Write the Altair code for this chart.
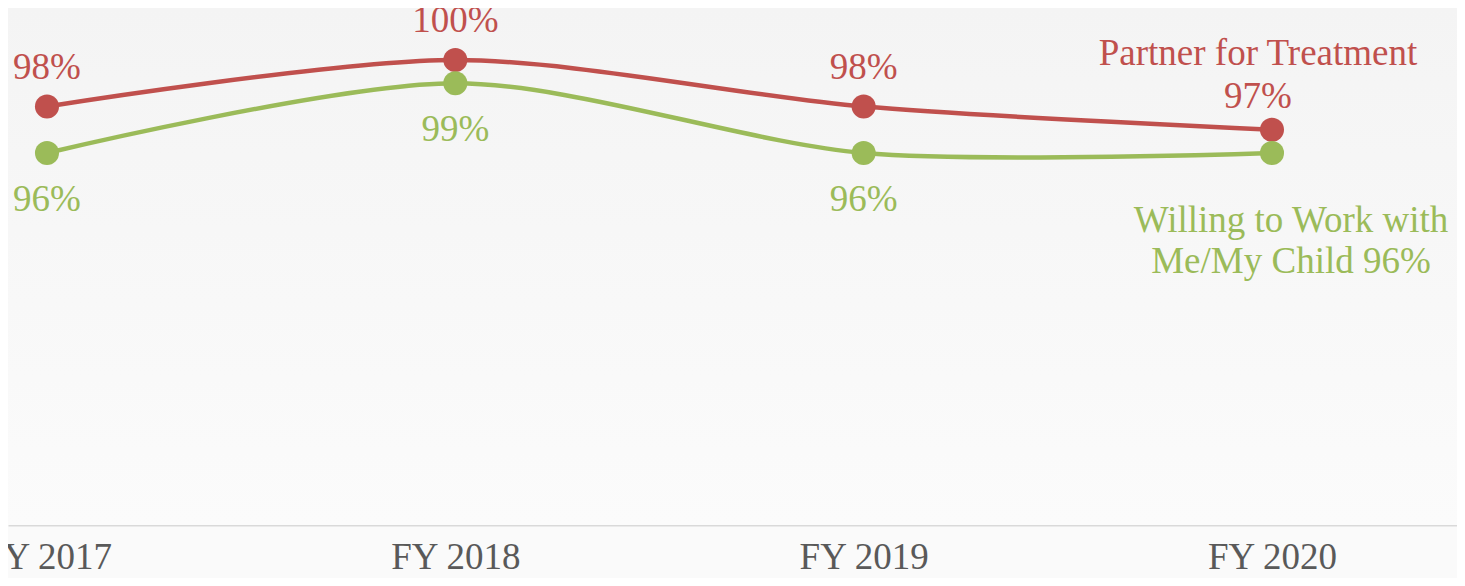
import altair as alt
import pandas as pd

years = [2017, 2018, 2019, 2020]
partner = [98, 100, 98, 97]
willing = [96, 99, 96, 96]
partner_name = "Partner for Treatment"
willing_name = "Willing to Work with\nMe/My Child"

RED = "#c0504d"
GREEN = "#9bbb59"
FONT = "'Liberation Serif', 'Times New Roman', Times, serif"
FS = 37

rows = []
for y, p, w in zip(years, partner, willing):
    rows.append({"year": y, "value": p, "series": "partner", "label": f"{p}%",
                 "last": y == years[-1]})
    rows.append({"year": y, "value": w, "series": "willing", "label": f"{w}%",
                 "last": y == years[-1]})
df = pd.DataFrame(rows)
df.loc[(df.series == "partner") & df["last"], "label"] = partner_name + "\n" + f"{partner[-1]}%"
df.loc[(df.series == "willing") & df["last"], "label"] = willing_name + f" {willing[-1]}%"

W, H = 1449, 517

x = alt.X("year:Q", scale=alt.Scale(domain=[2016.9045, 2020.4531], nice=False, zero=False),
          axis=alt.Axis(values=years, labelExpr="'FY ' + datum.value", title=None,
                        ticks=False, grid=False, domainColor="#d9d9d9", domainWidth=2,
                        labelFont=FONT, labelFontSize=FS, labelColor="#595959",
                        labelPadding=14, labelFlush=False, labelOverlap=False))
y = alt.Y("value:Q", scale=alt.Scale(domain=[80, 102.237], nice=False, zero=False), axis=None)
color = alt.Color("series:N", scale=alt.Scale(domain=["partner", "willing"], range=[RED, GREEN]),
                  legend=None)

bg = alt.Chart(alt.Data(values=[{}])).mark_rect(
    color=alt.Gradient(gradient="linear", x1=0, y1=0, x2=0, y2=1,
                       stops=[alt.GradientStop(color="#f4f4f4", offset=0),
                              alt.GradientStop(color="#fbfbfb", offset=1)])
).encode(x=alt.value(0), x2=alt.value(W), y=alt.value(0), y2=alt.value(H))

base = alt.Chart(df)
lines = base.mark_line(strokeWidth=4.5, interpolate="cardinal", tension=0.15).encode(
    x=x, y=y, color=color, detail="series:N")
points = base.mark_point(filled=True, size=580, opacity=1, shape="circle").encode(
    x=x, y=y, color=color)

def txt(series, last, dx, dy, lh=40):
    return base.transform_filter(
        (alt.datum.series == series) & (alt.datum["last"] == last)
    ).mark_text(font=FONT, fontSize=FS, dx=dx, dy=dy, baseline="alphabetic",
                align="center", lineBreak="\n", lineHeight=lh,
                color=RED if series == "partner" else GREEN).encode(
        x=x, y=y, text="label:N")

labels = [
    txt("partner", False, 0, -28),
    txt("willing", False, 0, 58),
    txt("partner", True, -14, -65, 43),
    txt("willing", True, 19, 79, 41),
]

chart = alt.layer(bg, lines, points, *labels).properties(
    width=W, height=H,
    autosize=alt.AutoSizeParams(type="none"),
    padding={"left": 0, "top": 0, "right": 0, "bottom": 53},
    background="#fafafa",
).configure_view(stroke=None)

chart.save("out.html", embed_options={"renderer": "svg", "actions": False})
